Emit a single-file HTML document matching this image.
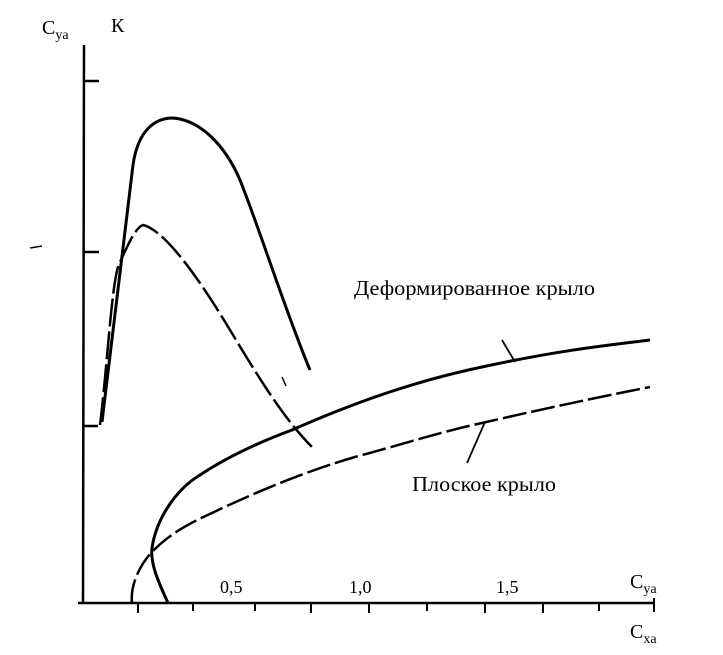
<!DOCTYPE html>
<html><head><meta charset="utf-8"><style>
body{margin:0;background:#fff}
svg{display:block}
text{font-family:"Liberation Serif","DejaVu Serif",serif;fill:#000}
</style></head><body>
<svg width="723" height="655" viewBox="0 0 723 655" xmlns="http://www.w3.org/2000/svg">
<g stroke="#000" fill="none" stroke-width="2.5">
<line x1="84" y1="45" x2="83" y2="604"/>
<line x1="78" y1="603" x2="655" y2="603"/>
<line x1="84" y1="81" x2="99" y2="81"/>
<line x1="84" y1="252" x2="99" y2="252"/>
<line x1="84" y1="426" x2="98" y2="426"/>
<g stroke-width="2">
<line x1="138" y1="603" x2="138" y2="613"/>
<line x1="193" y1="603" x2="193" y2="611"/>
<line x1="255" y1="603" x2="255" y2="611"/>
<line x1="311" y1="603" x2="311" y2="613"/>
<line x1="369" y1="603" x2="369" y2="613"/>
<line x1="427" y1="603" x2="427" y2="611"/>
<line x1="485" y1="603" x2="485" y2="613"/>
<line x1="543" y1="603" x2="543" y2="613"/>
<line x1="599" y1="603" x2="599" y2="611"/>
<line x1="654" y1="598" x2="654" y2="612"/>
</g>
<path d="M102,422 L133,165 C138,130 155,118 173,118 C200,120 225,145 240,180 C260,230 285,310 310,370" stroke-width="3"/>
<path d="M100,425 C108,360 112,275 120,262 C128,245 135,228 143,225 C165,230 200,280 230,330 C260,380 285,420 312,447" stroke-dasharray="28,5"/>
<path d="M168,603 C160,585 150,565 152,548 C156,520 175,490 200,475 C230,455 265,440 292,430 C360,400 420,380 482,367 C560,350 610,345 650,340" stroke-width="3"/>
<path d="M132,603 C130,585 140,565 151,553 C170,533 190,523 212,513 C260,490 310,470 355,457 C400,445 440,432 482,423 C560,405 610,395 650,387" stroke-dasharray="24,5"/>
<line x1="515" y1="362" x2="502" y2="340" stroke-width="1.8"/>
<line x1="467" y1="463" x2="485" y2="422" stroke-width="1.8"/>
<line x1="282" y1="377" x2="286" y2="386" stroke-width="1.5"/>
<line x1="30" y1="248" x2="42" y2="246" stroke-width="1.5"/>
</g>
<text x="42" y="34" font-size="20">C<tspan font-size="14" dy="5">ya</tspan></text>
<text x="111" y="32" font-size="20">К</text>
<text x="354" y="295" font-size="21" textLength="241" lengthAdjust="spacingAndGlyphs">Деформированное крыло</text>
<text x="412" y="491" font-size="21" textLength="144" lengthAdjust="spacingAndGlyphs">Плоское крыло</text>
<text x="220" y="593" font-size="18">0,5</text>
<text x="349" y="593" font-size="18">1,0</text>
<text x="496" y="593" font-size="18">1,5</text>
<text x="630" y="588" font-size="20">C<tspan font-size="14" dy="5">ya</tspan></text>
<text x="630" y="638" font-size="20">C<tspan font-size="14" dy="5">xa</tspan></text>
</svg>
</body></html>
